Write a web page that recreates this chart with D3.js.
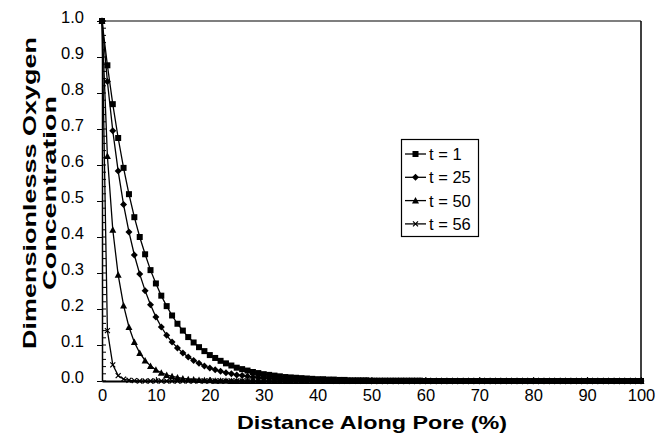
<!DOCTYPE html>
<html><head><meta charset="utf-8">
<script src="https://cdn.jsdelivr.net/npm/d3@7"></script>
<style>body{margin:0;background:#fff}svg{display:block}text{font-family:"Liberation Sans",Arial,sans-serif;fill:#000}</style>
</head><body><svg id="c" width="658" height="438"></svg>
<script>
const distance = [0,1,2,3,4,5,6,7,8,9,10,11,12,13,14,15,16,17,18,19,20,21,22,23,24,25,26,27,28,29,30,31,32,33,34,35,36,37,38,39,40,41,42,43,44,45,46,47,48,49,50,51,52,53,54,55,56,57,58,59,60,61,62,63,64,65,66,67,68,69,70,71,72,73,74,75,76,77,78,79,80,81,82,83,84,85,86,87,88,89,90,91,92,93,94,95,96,97,98,99,100];
const seriesNames = ["t = 1","t = 25","t = 50","t = 56"];
const t1 = [1.000,0.877,0.769,0.675,0.592,0.519,0.455,0.400,0.352,0.308,
0.271,0.237,0.208,0.182,0.159,0.140,0.122,0.107,0.094,0.083,
0.072,0.064,0.056,0.049,0.043,0.037,0.033,0.029,0.025,0.022,
0.019,0.017,0.015,0.013,0.011,0.010,0.009,0.008,0.007,0.006,
0.005,0.005,0.004,0.004,0.003,0.003,0.002,0.002,0.002,0.002,
0.001,0.001,0.001,0.001,0.001,0.001,0.001,0.001,0.001,0.001,
0,0,0,0,0,0,0,0,0,0, 0,0,0,0,0,0,0,0,0,0, 0,0,0,0,0,0,0,0,0,0, 0,0,0,0,0,0,0,0,0,0, 0];
const t25 = [1.000,0.832,0.695,0.583,0.490,0.414,0.350,0.297,0.251,0.212,
0.178,0.150,0.127,0.108,0.092,0.078,0.067,0.057,0.049,0.042,
0.036,0.031,0.027,0.023,0.020,0.017,0.015,0.013,0.011,0.010,
0.008,0.007,0.006,0.005,0.005,0.004,0.004,0.003,0.003,0.002,
0.002,0.002,0.002,0.001,0.001,0.001,0.001,0.001,0.001,0.001,
0,0,0,0,0,0,0,0,0,0, 0,0,0,0,0,0,0,0,0,0, 0,0,0,0,0,0,0,0,0,0, 0,0,0,0,0,0,0,0,0,0, 0,0,0,0,0,0,0,0,0,0, 0];
const t50 = [1.000,0.625,0.420,0.295,0.210,0.150,0.108,0.078,0.057,0.042,
0.031,0.023,0.017,0.013,0.010,0.007,0.005,0.004,0.003,0.002,
0.002,0.001,0.001,0.001,0,0,0,0,0,0,
0,0,0,0,0,0,0,0,0,0, 0,0,0,0,0,0,0,0,0,0, 0,0,0,0,0,0,0,0,0,0, 0,0,0,0,0,0,0,0,0,0, 0,0,0,0,0,0,0,0,0,0, 0,0,0,0,0,0,0,0,0,0, 0,0,0,0,0,0,0,0,0,0, 0];
const t56 = [1.000,0.140,0.045,0.015,0.005,0.002,0.001,0,0,0,
0,0,0,0,0,0,0,0,0,0, 0,0,0,0,0,0,0,0,0,0, 0,0,0,0,0,0,0,0,0,0, 0,0,0,0,0,0,0,0,0,0, 0,0,0,0,0,0,0,0,0,0, 0,0,0,0,0,0,0,0,0,0, 0,0,0,0,0,0,0,0,0,0, 0,0,0,0,0,0,0,0,0,0, 0,0,0,0,0,0,0,0,0,0, 0];
const xTicks = [0,10,20,30,40,50,60,70,80,90,100];
const yTicks = [0,0.1,0.2,0.3,0.4,0.5,0.6,0.7,0.8,0.9,1.0];
const markers = ["square","diamond","triangle","cross"];

const svg = d3.select("#c");
const x = d3.scaleLinear().domain([0,100]).range([102,641]);
const y = d3.scaleLinear().domain([0,1]).range([381,21]);
const allSeries = [t1,t25,t50,t56];

// frame
svg.append("line").attr("x1",x(0)).attr("x2",x(100)).attr("y1",y(1)).attr("y2",y(1)).attr("stroke","#555").attr("stroke-width",1.5);
svg.append("line").attr("x1",x(100)).attr("x2",x(100)).attr("y1",y(1)).attr("y2",y(0)).attr("stroke","#000").attr("stroke-width",1.5);

// minor y ticks (inward)
const yMinor = d3.range(0,1.0001,0.02);
svg.append("g").selectAll("line").data(yMinor).join("line")
  .attr("x1",x(0)).attr("x2",x(0)+4).attr("y1",d=>y(d)).attr("y2",d=>y(d)).attr("stroke","#000").attr("stroke-width",1);

// axes
const yAxis = svg.append("g").attr("transform",`translate(${x(0)},0)`)
  .call(d3.axisLeft(y).tickValues(yTicks).tickFormat(d3.format(".1f")).tickSize(5).tickSizeOuter(0).tickPadding(13));
yAxis.select(".domain").attr("stroke-width",1.5);
yAxis.selectAll("text").attr("font-size",16.5).attr("dy","0.1em").style("font-family","Liberation Sans, Arial, sans-serif");
const xAxis = svg.append("g").attr("transform",`translate(0,${y(0)})`)
  .call(d3.axisBottom(x).tickValues(xTicks).tickSize(-4).tickSizeOuter(0).tickPadding(8));
xAxis.select(".domain").attr("stroke-width",2);
xAxis.selectAll("text").attr("font-size",16.5).style("font-family","Liberation Sans, Arial, sans-serif");

// marker symbol generator
function drawMarker(g, type, cx, cy) {
  if (type === "square") {
    g.append("rect").attr("x",cx-3).attr("y",cy-3).attr("width",6).attr("height",6).attr("fill","#000");
  } else if (type === "diamond") {
    g.append("path").attr("d",`M${cx},${cy-3.5}L${cx+3.5},${cy}L${cx},${cy+3.5}L${cx-3.5},${cy}Z`).attr("fill","#000");
  } else if (type === "triangle") {
    g.append("path").attr("d",`M${cx},${cy-3.5}L${cx+3.5},${cy+3}L${cx-3.5},${cy+3}Z`).attr("fill","#000");
  } else {
    g.append("path").attr("d",`M${cx-2.5},${cy-2.5}L${cx+2.5},${cy+2.5}M${cx-2.5},${cy+2.5}L${cx+2.5},${cy-2.5}`).attr("stroke","#000").attr("stroke-width",1.2);
  }
}

const line = d3.line().x((d,i)=>x(distance[i])).y(d=>y(d));
allSeries.forEach((s,k)=>{
  svg.append("path").datum(s).attr("d",line).attr("fill","none").attr("stroke","#000").attr("stroke-width",1.3);
});
allSeries.forEach((s,k)=>{
  const g = svg.append("g");
  s.forEach((v,i)=>drawMarker(g, markers[k], x(distance[i]), y(v)));
});

// legend
const lg = svg.append("g");
lg.append("rect").attr("x",401.5).attr("y",139.5).attr("width",77).attr("height",97).attr("fill","#fff").attr("stroke","#000").attr("stroke-width",1.2);
seriesNames.forEach((n,k)=>{
  const yy = 154 + k*23.3;
  lg.append("line").attr("x1",405).attr("x2",426).attr("y1",yy).attr("y2",yy).attr("stroke","#000").attr("stroke-width",1.3);
  drawMarker(lg, markers[k], 415.5, yy);
  lg.append("text").attr("x",429).attr("y",yy+6).attr("font-size",16.5).text(n);
});

// titles
svg.append("text").attr("x",372).attr("y",429).attr("text-anchor","middle").attr("font-size",18.5).attr("font-weight","bold")
  .attr("textLength",270).attr("lengthAdjust","spacingAndGlyphs").text("Distance Along Pore (%)");
svg.append("text").attr("transform","translate(36,193) rotate(-90)").attr("text-anchor","middle").attr("font-size",18).attr("font-weight","bold")
  .attr("textLength",312).attr("lengthAdjust","spacingAndGlyphs").text("Dimensionlesss Oxygen");
svg.append("text").attr("transform","translate(56,193) rotate(-90)").attr("text-anchor","middle").attr("font-size",18).attr("font-weight","bold")
  .attr("textLength",194).attr("lengthAdjust","spacingAndGlyphs").text("Concentration");
</script></body></html>
